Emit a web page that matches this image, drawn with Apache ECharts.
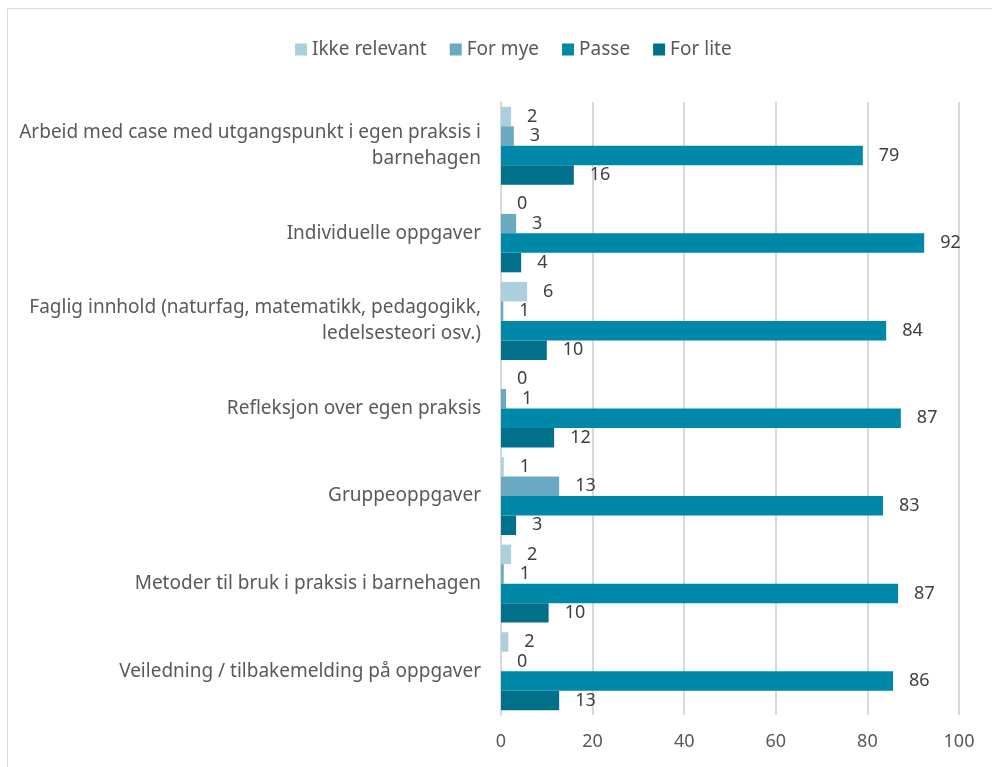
<!DOCTYPE html>
<html><head><meta charset="utf-8">
<script src="https://cdn.jsdelivr.net/npm/echarts@6/dist/echarts.min.js"></script>
<style>html,body{margin:0;padding:0;background:#fff}#c{width:992px;height:767px}</style>
</head><body><div id="c"></div>
<script>
var categories = [
  "Arbeid med case med utgangspunkt i egen praksis i\nbarnehagen",
  "Individuelle oppgaver",
  "Faglig innhold (naturfag, matematikk, pedagogikk,\nledelsesteori osv.)",
  "Refleksjon over egen praksis",
  "Gruppeoppgaver",
  "Metoder til bruk i praksis i barnehagen",
  "Veiledning / tilbakemelding på oppgaver"
];
var seriesNames = ["Ikke relevant", "For mye", "Passe", "For lite"];
var ikkeRelevant = [2.2, 0, 5.7, 0, 0.6, 2.2, 1.6];
var forMye = [2.8, 3.3, 0.5, 1.1, 12.7, 0.6, 0];
var passe = [79.0, 92.4, 84.1, 87.3, 83.4, 86.7, 85.6];
var forLite = [15.9, 4.4, 10.0, 11.6, 3.3, 10.4, 12.7];
var xTicks = [0, 20, 40, 60, 80, 100];

var colors = ["#abcfdc", "#6aa9c1", "#0088a8", "#00708b"];
var FONT = "Noto Sans";
var values = [ikkeRelevant, forMye, passe, forLite];
var chart = echarts.init(document.getElementById('c'));
chart.setOption({
  animation: false,
  textStyle: {fontFamily: FONT},
  graphic: [{type: 'rect', shape: {x: 7.5, y: 8.5, width: 1000, height: 800}, style: {fill: 'none', stroke: '#d9d9d9', lineWidth: 1}, silent: true}],
  legend: {
    top: 35, left: 290, itemWidth: 12, itemHeight: 12, itemGap: 23,
    icon: 'rect',
    textStyle: {fontSize: 19, color: '#595959', fontFamily: FONT},
    data: seriesNames
  },
  grid: {left: 501, right: 33, top: 102, bottom: 52, containLabel: false},
  xAxis: {
    type: 'value', min: 0, max: 100, interval: 20,
    axisLine: {show: false}, axisTick: {show: false},
    splitLine: {lineStyle: {color: '#d9d9d9', width: 2}},
    axisLabel: {fontSize: 18, color: '#595959', margin: 18, fontFamily: FONT,
      formatter: function(v){ return xTicks.indexOf(v) >= 0 ? String(v) : ''; }}
  },
  yAxis: {
    type: 'category', data: categories, inverse: true,
    axisLine: {show: true, lineStyle: {color: '#d9d9d9', width: 2}},
    axisTick: {show: false},
    axisLabel: {fontSize: 19, color: '#595959', margin: 20, lineHeight: 26, align: 'right', fontFamily: FONT}
  },
  series: seriesNames.map(function(n, i){
    return {
      name: n, type: 'bar', data: values[i],
      barGap: '0%', barCategoryGap: '11%',
      itemStyle: {color: colors[i]},
      label: {show: true, position: 'right', distance: 16, fontSize: 18, color: '#404040', fontFamily: FONT,
        formatter: function(p){ return Math.round(p.value); }}
    };
  })
});
</script></body></html>
